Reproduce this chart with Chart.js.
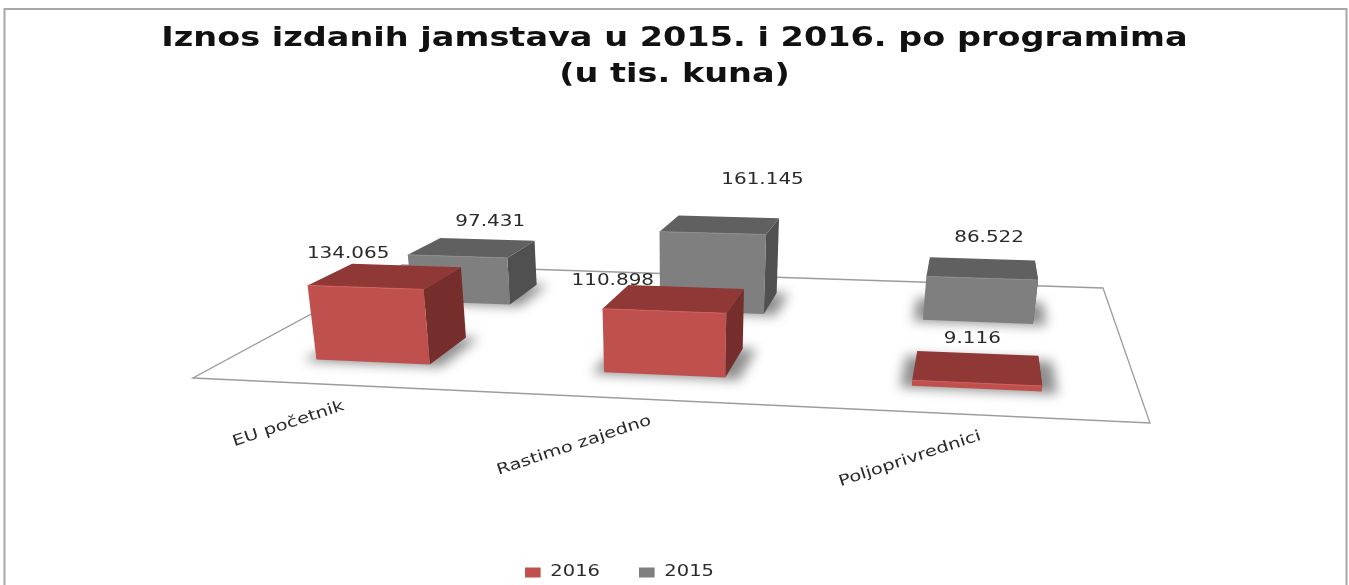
<!DOCTYPE html>
<html><head><meta charset="utf-8">
<style>html,body{margin:0;padding:0;background:#fff}canvas{display:block;filter:blur(0.6px)}</style>
<script src="https://cdn.jsdelivr.net/npm/chart.js@4/dist/chart.umd.min.js"></script>
</head><body><canvas id="c" width="1349" height="585"></canvas>
<script>
const categories = ["EU početnik", "Rastimo zajedno", "Poljoprivrednici"];
const series2016 = [134065, 110898, 9116];
const series2015 = [97431, 161145, 86522];
const seriesNames = ["2016", "2015"];
const titleLines = ["Iznos izdanih jamstava u 2015. i 2016. po programima", "(u tis. kuna)"];

// view of the 3D scene
const FLOOR = [[193,378],[1150,423],[1103,288],[402,265]];
const BAR_U = 0.134, BAR_DEPTH = 0.2, SERIES_V = [0.2525, 0.7375];
const FULL_RANGE_PX = 115.4, NADIR_X = 680, SPREAD = 0.00033;
const FACES = [
  {front:'#c0504d', top:'#8f3836', side:'#762e2c', edge:'#d0605c'},
  {front:'#7f7f7f', top:'#606060', side:'#505050', edge:'#8c8c8c'}
];
const LABEL_NUDGE = [
  [[-58,-11],[-73,-6],[-5,-14]],
  [[3,-17],[34,-37],[7,-21]]
];
const TXT = '#2a2a2a', FONT = '"DejaVu Sans"';

function homography(q){
  const [p0,p1,p2,p3]=q;
  const dx1=p1[0]-p2[0],dx2=p3[0]-p2[0],sx=p0[0]-p1[0]+p2[0]-p3[0];
  const dy1=p1[1]-p2[1],dy2=p3[1]-p2[1],sy=p0[1]-p1[1]+p2[1]-p3[1];
  const den=dx1*dy2-dx2*dy1;
  const g=(sx*dy2-dx2*sy)/den,h=(dx1*sy-sx*dy1)/den;
  const a=p1[0]-p0[0]+g*p1[0],b=p3[0]-p0[0]+h*p3[0],c=p0[0];
  const d=p1[1]-p0[1]+g*p1[1],e=p3[1]-p0[1]+h*p3[1],f=p0[1];
  return (u,v,lift)=>{
    const w=g*u+h*v+1;
    let x=(a*u+b*v+c)/w,y=(d*u+e*v+f)/w;
    const px=(lift||0)/w;
    x+=px*(x-NADIR_X)*SPREAD; y-=px;
    return [x,y];
  };
}
const project=homography(FLOOR);

function poly(ctx,pts,fill){
  ctx.beginPath();pts.forEach((p,i)=>i?ctx.lineTo(p[0],p[1]):ctx.moveTo(p[0],p[1]));ctx.closePath();
  ctx.fillStyle=fill;ctx.fill();
}
function stretchedText(ctx,text,x,y,sx,angle,align,font,color){
  ctx.save();ctx.translate(x,y);ctx.rotate(angle||0);ctx.scale(sx,1);
  ctx.font=font;ctx.fillStyle=color;ctx.textAlign=align||'center';ctx.textBaseline='middle';
  ctx.fillText(text,0,0);ctx.restore();
}
function stretchBox(box,ctx,sx,cx,dx,dy){
  if(!box||box._st)return;box._st=true;
  const draw=box.draw.bind(box);
  box.draw=function(a){ctx.save();ctx.translate(cx+dx,dy);ctx.scale(sx,1);ctx.translate(-cx,0);draw(a);ctx.restore();};
}

const scene={
  id:'scene',
  beforeDraw(chart){
    const ctx=chart.ctx;
    stretchBox(chart.titleBlock,ctx,1.265,674.5,0,0);
    stretchBox(chart.legend,ctx,1.3,674.5,-55,8);
    ctx.save();
    ctx.strokeStyle='#a8a8a8';ctx.lineWidth=2;
    ctx.strokeRect(4.5,9,1342,640);
    ctx.restore();
  },
  beforeDatasetsDraw(chart){
    const ctx=chart.ctx,xs=chart.scales.x,ys=chart.scales.y;
    const us=categories.map((_,i)=>(xs.getPixelForValue(i)-xs.left)/xs.width);
    const lift=v=>(ys.getPixelForValue(0)-ys.getPixelForValue(v))/ys.height*FULL_RANGE_PX;
    // floor
    ctx.save();
    ctx.beginPath();FLOOR.forEach((p,i)=>i?ctx.lineTo(p[0],p[1]):ctx.moveTo(p[0],p[1]));ctx.closePath();
    ctx.strokeStyle='#9c9c9c';ctx.lineWidth=1.3;ctx.stroke();
    ctx.restore();
    // axis labels
    categories.forEach((name,i)=>{
      const t=project(us[i],0);
      stretchedText(ctx,name,t[0]+5,t[1]+21,1.3,-18.3*Math.PI/180,'right','15px '+FONT,TXT);
    });
    const order=[1,0];
    // shadows
    ctx.save();ctx.filter='blur(6px)';
    order.forEach(s=>{
      us.forEach(u=>{
        const vc=SERIES_V[s],hu=BAR_U/2,hv=BAR_DEPTH/2;
        const a=u-hu-0.012,b=u+hu+0.016,f=vc-hv-0.012,k=vc+hv;
        poly(ctx,[project(a,f),project(b,f),project(b,k),project(a,k)],'rgba(50,50,50,0.55)');
      });
    });
    ctx.restore();
    // boxes, back row first
    order.forEach(s=>{
      const ds=chart.data.datasets[s],col=FACES[s],vc=SERIES_V[s];
      ds.data.forEach((val,i)=>{
        const L=us[i]-BAR_U/2,R=us[i]+BAR_U/2,F=vc-BAR_DEPTH/2,B=vc+BAR_DEPTH/2,h=lift(val);
        const fbl=project(L,F),fbr=project(R,F),bbr=project(R,B);
        const ftl=project(L,F,h),ftr=project(R,F,h),btl=project(L,B,h),btr=project(R,B,h);
        poly(ctx,[fbr,bbr,btr,ftr],col.side);
        poly(ctx,[ftl,ftr,btr,btl],col.top);
        poly(ctx,[fbl,fbr,ftr,ftl],col.front);
        ctx.save();ctx.strokeStyle=col.edge;ctx.lineWidth=1;
        ctx.beginPath();ctx.moveTo(ftl[0],ftl[1]);ctx.lineTo(ftr[0],ftr[1]);ctx.stroke();ctx.restore();
      });
    });
    // value labels
    order.forEach(s=>{
      const ds=chart.data.datasets[s],vc=SERIES_V[s];
      ds.data.forEach((val,i)=>{
        const t=project(us[i],vc+BAR_DEPTH/2,lift(val));
        const n=LABEL_NUDGE[s][i];
        const text=String(val).replace(/\B(?=(\d{3})+$)/g,'.');
        stretchedText(ctx,text,t[0]+n[0],t[1]+n[1],1.33,0,'center','15px '+FONT,TXT);
      });
    });
    return false; // library's flat bars are replaced by the projected boxes
  }
};

new Chart(document.getElementById('c'),{
  type:'bar',
  plugins:[scene],
  data:{labels:categories,datasets:[
    {label:seriesNames[0],data:series2016,backgroundColor:FACES[0].front},
    {label:seriesNames[1],data:series2015,backgroundColor:FACES[1].front}
  ]},
  options:{
    responsive:false,animation:false,
    layout:{padding:{top:21,bottom:3}},
    scales:{
      x:{display:false},
      y:{display:false,min:0,max:200000}
    },
    plugins:{
      tooltip:{enabled:false},
      title:{display:true,text:titleLines,color:'#111',font:{family:FONT,size:26.5,weight:'bold',lineHeight:1.36},padding:0},
      legend:{position:'bottom',labels:{boxWidth:12,boxHeight:10,padding:30,color:TXT,font:{family:FONT,size:15}}}
    }
  }
});
</script></body></html>
